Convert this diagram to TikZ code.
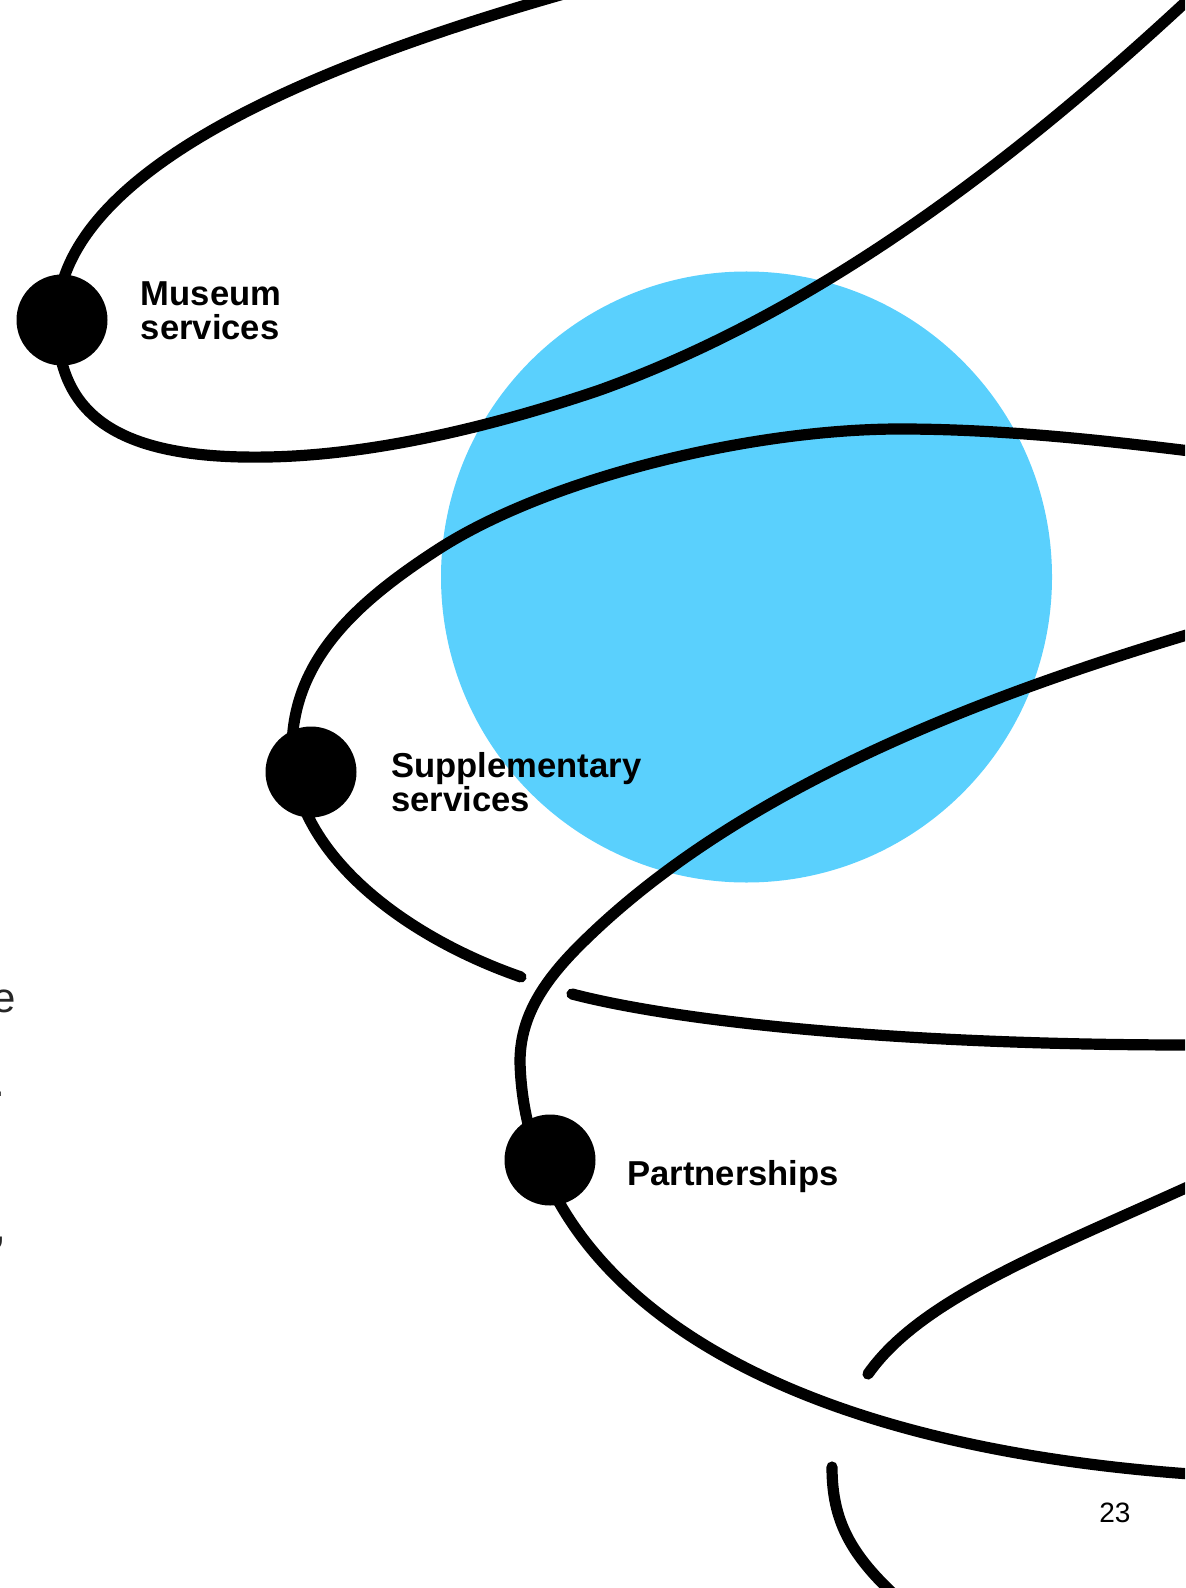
\documentclass[tikz,border=0pt]{standalone}
\usepackage{fontspec}
\setmainfont{Liberation Sans}
\definecolor{skyblue}{RGB}{90,208,253}
\begin{document}
\begin{tikzpicture}[x=0.5pt,y=-0.5pt,
  wire/.style={line width=5.6pt,line cap=round,black},
  dot/.style={circle,fill=black,minimum size=45.5pt,inner sep=0pt},
  lbl/.style={font=\fontsize{17.3}{17}\selectfont\bfseries,align=left,inner sep=0pt,anchor=base west},
  frag/.style={font=\fontsize{21}{24}\selectfont,inner sep=0pt,anchor=base east,text=black!85}]
\useasboundingbox (0,0) rectangle (1185,1588);
\clip (0,0) rectangle (1185,1588);
\fill[skyblue] (746.5,577) circle[radius=305.5];
% curve 1 (Museum services)
\draw[wire] (585,-12) .. controls (315,63) and (57,170) .. (57,320)
  .. controls (57,410) and (110,460) .. (268,457)
  .. controls (378,455) and (500,424) .. (600,390)
  .. controls (800,318) and (990,184) .. (1190,-2);
% curve 2 (Supplementary services)
\draw[wire] (1190,451) .. controls (1100,440) and (1000,429) .. (900,429)
  .. controls (750,429) and (547,478.5) .. (437,550)
  .. controls (357,602) and (292,660) .. (292,750)
  .. controls (292,850) and (400,935) .. (521,977);
% curve 3 (Partnerships)
\draw[wire] (1190,634) .. controls (990,694) and (739,786) .. (579,946)
  .. controls (540,985) and (520,1020) .. (520,1062)
  .. controls (525,1260) and (720,1440) .. (1190,1474);
% curve 4
\draw[wire] (572,994) .. controls (680,1022) and (900,1045) .. (1190,1045);
% curve 5
\draw[wire] (868,1374) .. controls (920,1300) and (1040,1254) .. (1190,1186);
% curve 6
\draw[wire] (832,1467) .. controls (832,1520) and (850,1555) .. (900,1600);
\node[dot] (d1) at (62,320) {};
\node[dot] (d2) at (311,772) {};
\node[dot] (d3) at (550,1160) {};
\node[lbl] (t1) at (140.5,340) {Museum\\services};
\node[lbl] (t2) at (391,811) {Supplementary\\services};
\node[lbl] (t3) at (627,1185) {Partnerships};
\node[font=\fontsize{14}{16}\selectfont,inner sep=0pt,anchor=base west] (pg) at (1099,1522) {23};
\node[frag] (f1) at (16,1012) {e};
\node[frag] (f2) at (6,1096) {.};
\node[frag] (f3) at (7,1241) {,};
\end{tikzpicture}
\end{document}
